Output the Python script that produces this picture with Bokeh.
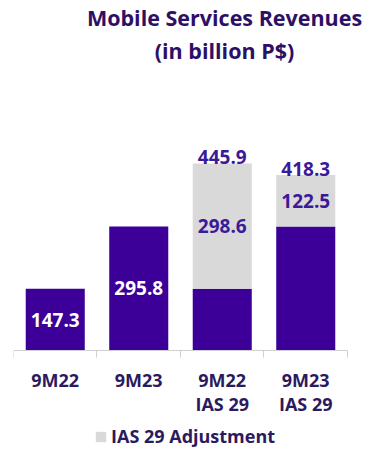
from bokeh.plotting import figure
from bokeh.models import ColumnDataSource, Range1d, FixedTicker, Label, Legend, LegendItem
from bokeh.core.properties import value
from bokeh.embed import file_html
from bokeh.resources import INLINE

# ---- data ----
categories = ["9M22", "9M23", "9M22\nIAS 29", "9M23\nIAS 29"]
base = [147.3, 295.8, 147.3, 295.8]
adjustment = [0.0, 0.0, 298.6, 122.5]
total = [147.3, 295.8, 445.9, 418.3]
series_name = "IAS 29 Adjustment"
title_lines = ["Mobile Services Revenues", "(in billion P$)"]

PURPLE = "#3c0099"
GRAY = "#d9d9d9"
TXT = "#2b1a5e"
LBL = "#3a1a98"
FONT = "Open Sans"

n = len(categories)
xc = [i + 0.5 for i in range(n)]
bounds = [i for i in range(n + 1)]

src = ColumnDataSource(dict(
    x=xc, base=base, adj=adjustment, top=[b + a for b, a in zip(base, adjustment)],
    total=total,
))

p = figure(width=368, height=456, x_range=Range1d(0, n + 0.2515), y_range=Range1d(-252.7, 834.3),
           output_backend="svg", toolbar_location=None,
           min_border_left=13, min_border_right=0, min_border_top=0, min_border_bottom=0)
p.yaxis.visible = False
p.grid.visible = False
p.outline_line_color = None
p.background_fill_color = None
p.border_fill_color = "white"

W = 0.707
p.vbar(x="x", bottom=0, top="base", width=W, source=src, color=PURPLE, line_color=None)
adj_r = p.vbar(x="x", bottom="base", top="top", width=W, source=src, color=GRAY, line_color=None)

# labels
single = [i for i in range(n) if adjustment[i] == 0]
stacked = [i for i in range(n) if adjustment[i] != 0]
s1 = ColumnDataSource(dict(x=[xc[i] for i in single], y=[base[i] / 2 for i in single],
                           t=["%.1f" % base[i] for i in single]))
p.text(x="x", y="y", text="t", source=s1, text_color="white", text_align="center",
       text_baseline="middle", text_font=value(FONT), text_font_style="bold", text_font_size="19px")
s2 = ColumnDataSource(dict(x=[xc[i] for i in stacked],
                           y=[base[i] + adjustment[i] / 2 for i in stacked],
                           t=["%.1f" % adjustment[i] for i in stacked]))
p.text(x="x", y="y", text="t", source=s2, text_color=LBL, text_align="center",
       text_baseline="middle", text_font=value(FONT), text_font_style="bold", text_font_size="19px")
s3 = ColumnDataSource(dict(x=[xc[i] for i in stacked], y=[total[i] for i in stacked],
                           t=["%.1f" % total[i] for i in stacked]))
p.text(x="x", y="y", text="t", source=s3, text_color=LBL, text_align="center",
       text_baseline="alphabetic", y_offset=-6, text_font=value(FONT), text_font_style="bold",
       text_font_size="19px")

# title
for txt, yy in zip(title_lines, [794, 715]):
    p.add_layout(Label(x=2.527, y=yy, text=txt, text_align="center", text_baseline="alphabetic",
                       text_font=FONT, text_font_style="bold", text_font_size="21.5px",
                       text_color="#2d1066"))

# x axis drawn at y = 0
ax = p.xaxis[0]
ax.fixed_location = 0
ax.bounds = (0, n)
ax.ticker = FixedTicker(ticks=xc, minor_ticks=bounds)
ax.major_label_overrides = {xc[i]: categories[i] for i in range(n)}
ax.major_tick_line_color = None
ax.major_tick_out = 0
ax.major_tick_in = 0
ax.minor_tick_in = 0
ax.minor_tick_out = 7
ax.minor_tick_line_color = "#d0d0d0"
ax.axis_line_color = "#d0d0d0"
ax.major_label_standoff = 11
ax.major_label_text_font = FONT
ax.major_label_text_font_style = "bold"
ax.major_label_text_font_size = "18px"
ax.major_label_text_color = TXT
ax.major_label_text_line_height = 1.0

legend = Legend(items=[LegendItem(label=series_name, renderers=[adj_r])],
                orientation="horizontal", location=(81, 8),
                label_text_font=FONT, label_text_font_style="bold", label_text_font_size="18px",
                label_text_color=TXT, glyph_width=13, glyph_height=13, label_standoff=4,
                padding=0, margin=0, border_line_color=None, background_fill_alpha=0)
p.add_layout(legend)

open("out.html", "w").write(file_html(p, INLINE))
